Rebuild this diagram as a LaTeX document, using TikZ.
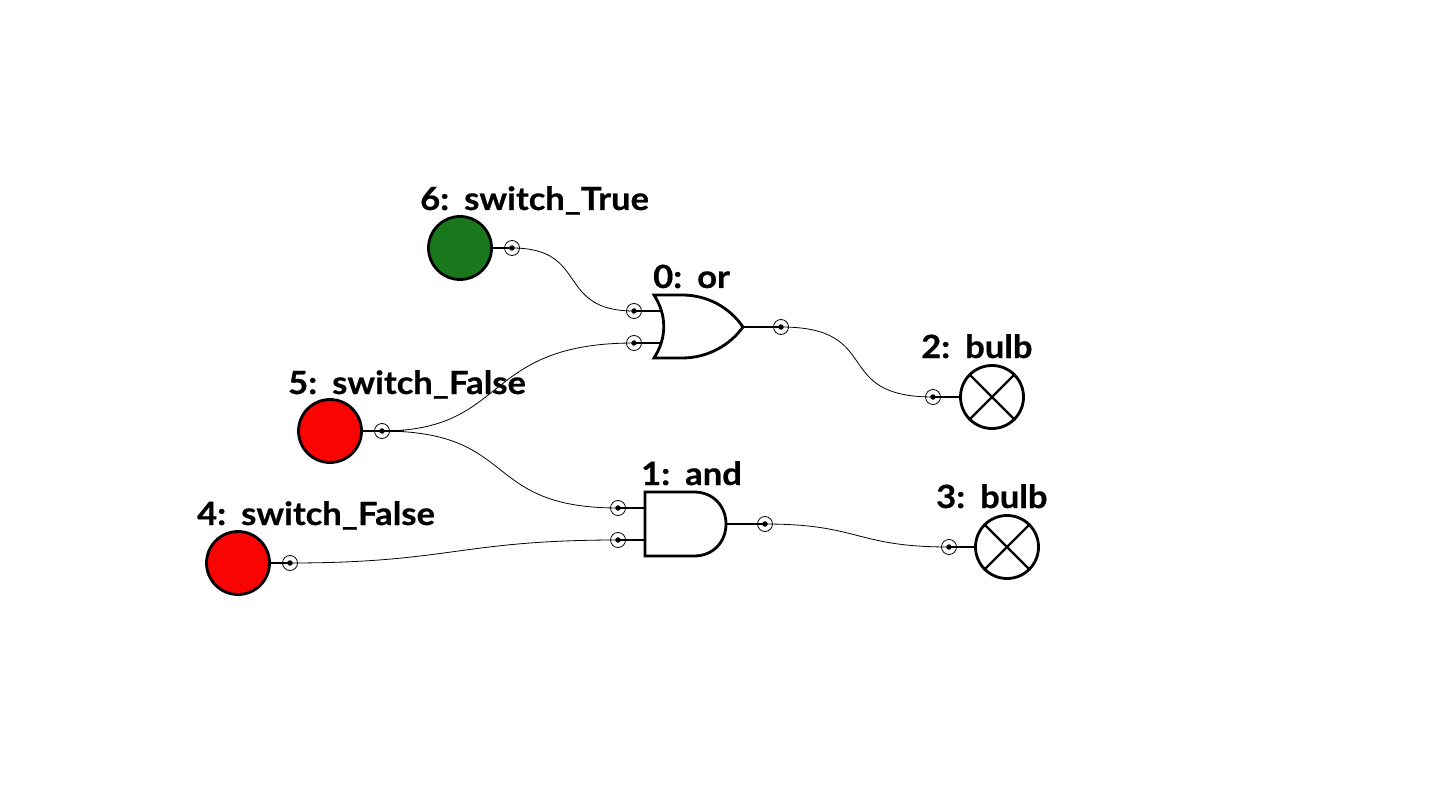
\documentclass[tikz,border=0pt]{standalone}
\usepackage{fontspec}
\setmainfont{Lato}[BoldFont={Lato Bold},BoldFeatures={FakeStretch=1.08,FakeBold=0.6}]
\definecolor{swred}{RGB}{250,3,3}
\definecolor{swgreen}{RGB}{26,120,28}
\tikzset{
  x=1pt,y=-1pt,
  lbl/.style={anchor=base west,inner sep=0pt,font=\fontsize{32}{36}\selectfont\bfseries,text=black},
  pinc/.style={circle,draw=black,line width=0.8pt,minimum size=15pt,inner sep=0pt},
  pindot/.style={circle,fill=black,minimum size=5.5pt,inner sep=0pt},
  sw/.style={circle,draw=black,line width=2.8pt,minimum size=63pt,inner sep=0pt},
  bulbn/.style={circle,draw=black,line width=2.8pt,fill=white,minimum size=63pt,inner sep=0pt},
  stub/.style={line width=2.3pt,black},
  wire/.style={line width=0.8pt,black},
  gate/.style={line width=2.8pt,black,fill=white,line join=miter},
}
\newcommand{\pinnode}[2]{\node[pinc] (#1) at (#2) {};\node[pindot] at (#2) {};}
\begin{document}
\begin{tikzpicture}
\useasboundingbox (0,0) rectangle (1440,810);
% switches
\node[sw,fill=swgreen] (s6) at (460,248) {};
\node[sw,fill=swred] (s5) at (330,431) {};
\node[sw,fill=swred] (s4) at (238,563) {};
% bulbs
\node[bulbn] (b2) at (992,397) {};
\node[bulbn] (b3) at (1007,547) {};
\foreach \b in {b2,b3}{
  \draw[stub] (\b.north west) -- (\b.south east);
  \draw[stub] (\b.north east) -- (\b.south west);
}
% pins
\pinnode{p6}{512,248}
\pinnode{p5}{382,431}
\pinnode{p4}{290,563}
\pinnode{oa}{634,311}
\pinnode{ob}{634,343}
\pinnode{oo}{781,327}
\pinnode{aa}{618,508}
\pinnode{ab}{618,540}
\pinnode{ao}{765,524}
\pinnode{b2i}{933,397}
\pinnode{b3i}{949,547}
% stubs
\draw[stub] (s6.east) -- (p6.center);
\draw[stub] (s5.east) -- (p5.center) -- ++(22,0);
\draw[stub] (s4.east) -- (p4.center);
\draw[stub] (oa.center) -- (660,311);
\draw[stub] (ob.center) -- (660,343);
\draw[stub] (aa.center) -- (645,508);
\draw[stub] (ab.center) -- (645,540);
\draw[stub] (743,327) -- (oo.center);
\draw[stub] (726,524) -- (ao.center);
\draw[stub] (b2i.center) -- (b2.west);
\draw[stub] (b3i.center) -- (b3.west);
% gates
\draw[gate] (654,295) -- (682,295) .. controls (708,295) and (730,308) .. (743,327)
  .. controls (730,345) and (708,358) .. (682,358) -- (654,358)
  .. controls (667,338) and (667,315) .. cycle;
\draw[gate] (645,492) -- (694,492) .. controls (714,492) and (726,507) .. (726,524)
  .. controls (726,541) and (714,556) .. (694,556) -- (645,556) -- cycle;
% wires
\draw[wire] (p6.center) .. controls (590,248) and (555,311) .. (oa.center);
\draw[wire] (p5.center) .. controls (510,431) and (480,343) .. (ob.center);
\draw[wire] (p5.center) .. controls (520,431) and (480,508) .. (aa.center);
\draw[wire] (p4.center) .. controls (450,563) and (460,540) .. (ab.center);
\draw[wire] (oo.center) .. controls (885,327) and (830,397) .. (b2i.center);
\draw[wire] (ao.center) .. controls (860,524) and (855,547) .. (b3i.center);
% labels
\node[lbl] (l6) at (420,210) {6:\hspace{0.12em} switch\_True};
\node[lbl] (l0) at (653,288) {0:\hspace{0.12em} or};
\node[lbl] (l2) at (921,358) {2:\hspace{0.12em} bulb};
\node[lbl] (l5) at (288,394) {5:\hspace{0.12em} switch\_False};
\node[lbl] (l1) at (641,485) {1:\hspace{0.12em} and};
\node[lbl] (l3) at (936,508) {3:\hspace{0.12em} bulb};
\node[lbl] (l4) at (197,525) {4:\hspace{0.12em} switch\_False};
\end{tikzpicture}
\end{document}
